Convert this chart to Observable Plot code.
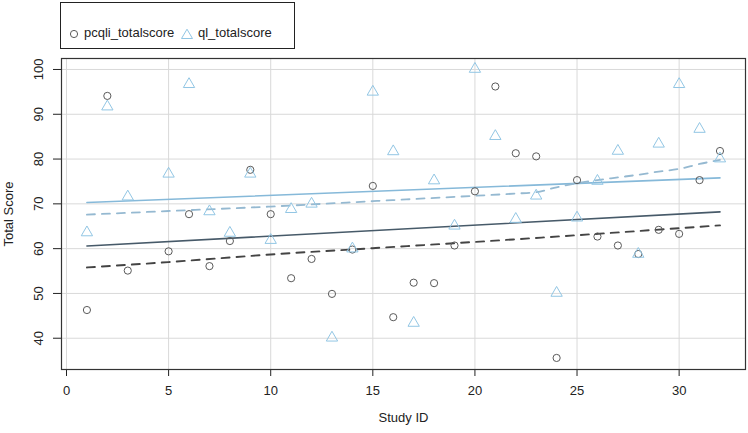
<!DOCTYPE html>
<html>
<head>
<meta charset="utf-8">
<script src="https://cdn.jsdelivr.net/npm/d3@7"></script>
<script src="https://cdn.jsdelivr.net/npm/@observablehq/plot@0.6"></script>
<style>
  html, body { margin: 0; padding: 0; background: #fff; }
  body { width: 748px; height: 433px; position: relative; overflow: hidden; font-family: "Liberation Sans", Arial, sans-serif; }
  #legend { position: absolute; left: 60px; top: 2px; width: 235px; height: 47px; box-sizing: border-box; border: 1px solid #222; font-size: 13px; color: #222; }
  #legend .item { position: absolute; top: 22px; line-height: 16px; white-space: nowrap; }
  #legend svg { position: absolute; top: 25px; }
  #chart { position: absolute; left: 0; top: 50px; }
</style>
</head>
<body>
<div id="legend">
  <svg style="left:7px" width="12" height="12"><circle cx="6" cy="6" r="3.6" fill="none" stroke="#5a5a5a" stroke-width="1"/></svg>
  <span class="item" style="left:23px">pcqli_totalscore</span>
  <svg style="left:119px" width="14" height="12"><path d="M7,1.2 L12.5,10.5 L1.5,10.5 Z" fill="none" stroke="#92c6e4" stroke-width="1"/></svg>
  <span class="item" style="left:137px">ql_totalscore</span>
</div>
<div id="chart"></div>
<script>
// Study IDs (no study 4 in the picture)
const studyId = [1,2,3,5,6,7,8,9,10,11,12,13,14,15,16,17,18,19,20,21,22,23,24,25,26,27,28,29,30,31,32];
const pcqliTotal = [46.3,94.1,55.1,59.4,67.7,56.1,61.7,77.6,67.7,53.4,57.7,49.9,59.8,74.0,44.7,52.4,52.3,60.7,72.8,96.2,81.3,80.6,35.6,75.3,62.7,60.7,58.8,64.2,63.3,75.3,81.8];
const qlTotal    = [63.6,91.7,71.6,76.7,96.7,68.3,63.5,76.7,61.9,68.8,70.0,40.1,60.0,95.0,81.7,43.4,75.2,65.1,100.1,85.1,66.6,71.8,50.1,66.9,75.1,81.8,58.8,83.4,96.7,86.7,80.1];

// Fitted lines (solid = linear fit, dashed = second fit)
const fitX = [1, 32];
const pcqliFit = [60.6, 68.2];
const qlFit = [70.3, 75.8];
const pcqliDashX = [1, 5, 10, 15, 20, 25, 32];
const pcqliDash  = [55.8, 57.0, 58.7, 60.1, 61.5, 63.0, 65.2];
const qlDashX = [1, 5, 10, 15, 20, 22, 23, 24, 25, 26, 27, 28, 29, 30, 31, 32];
const qlDash  = [67.6, 68.4, 69.4, 70.6, 71.8, 72.3, 72.6, 73.7, 74.6, 75.3, 75.9, 76.5, 77.2, 77.8, 78.9, 79.8];

const xTicks = [0, 5, 10, 15, 20, 25, 30];
const yTicks = [40, 50, 60, 70, 80, 90, 100];

const pcqliPts = studyId.map((x, i) => ({x, y: pcqliTotal[i]}));
const qlPts = studyId.map((x, i) => ({x, y: qlTotal[i]}));
const pcqliFitPts = fitX.map((x, i) => ({x, y: pcqliFit[i]}));
const qlFitPts = fitX.map((x, i) => ({x, y: qlFit[i]}));
const pcqliDashPts = pcqliDashX.map((x, i) => ({x, y: pcqliDash[i]}));
const qlDashPts = qlDashX.map((x, i) => ({x, y: qlDash[i]}));

const chart = Plot.plot({
  width: 748,
  height: 383,
  marginLeft: 61,
  marginRight: 3,
  marginTop: 8,
  marginBottom: 64,
  style: { fontFamily: "Liberation Sans, Arial, sans-serif", fontSize: "13px", color: "#222", background: "#fff" },
  x: { domain: [-0.245, 33.25] },
  y: { domain: [33.02, 102.45] },
  marks: [
    Plot.gridX(xTicks, { stroke: "#d9d9d9", strokeOpacity: 1, strokeWidth: 1 }),
    Plot.gridY(yTicks, { stroke: "#d9d9d9", strokeOpacity: 1, strokeWidth: 1 }),
    Plot.axisX({ ticks: xTicks, tickSize: 7, tickPadding: 9, label: null, stroke: "#222", fontSize: 13 }),
    Plot.axisY({ ticks: yTicks, tickSize: 8, tickFormat: () => "", label: null, stroke: "#222" }),
    Plot.text(yTicks, { y: d => d, text: d => String(d), frameAnchor: "left", textAnchor: "middle", dx: -23, rotate: -90, fontSize: 13, fill: "#222" }),
    Plot.text(["Study ID"], { frameAnchor: "bottom", textAnchor: "middle", dy: 52, fontSize: 13, fill: "#222" }),
    Plot.text(["Total Score"], { frameAnchor: "left", textAnchor: "middle", dx: -53, rotate: -90, fontSize: 13, fill: "#222" }),
    Plot.line(qlFitPts, { x: "x", y: "y", stroke: "#86b9d9", strokeWidth: 1.6 }),
    Plot.line(qlDashPts, { x: "x", y: "y", stroke: "#95b9d1", strokeWidth: 1.8, strokeDasharray: "8,7", curve: "monotone-x" }),
    Plot.line(pcqliFitPts, { x: "x", y: "y", stroke: "#475a69", strokeWidth: 1.6 }),
    Plot.line(pcqliDashPts, { x: "x", y: "y", stroke: "#444", strokeWidth: 1.9, strokeDasharray: "8,7", curve: "monotone-x" }),
    Plot.dot(pcqliPts, { x: "x", y: "y", r: 3.6, stroke: "#5a5a5a", strokeWidth: 1, fill: "none" }),
    Plot.dot(qlPts, { x: "x", y: "y", symbol: "triangle", r: 4.2, stroke: "#92c6e4", strokeWidth: 1, fill: "none" }),
    Plot.frame({ stroke: "#333", strokeWidth: 1.2 })
  ]
});
document.getElementById("chart").appendChild(chart);
</script>
</body>
</html>
